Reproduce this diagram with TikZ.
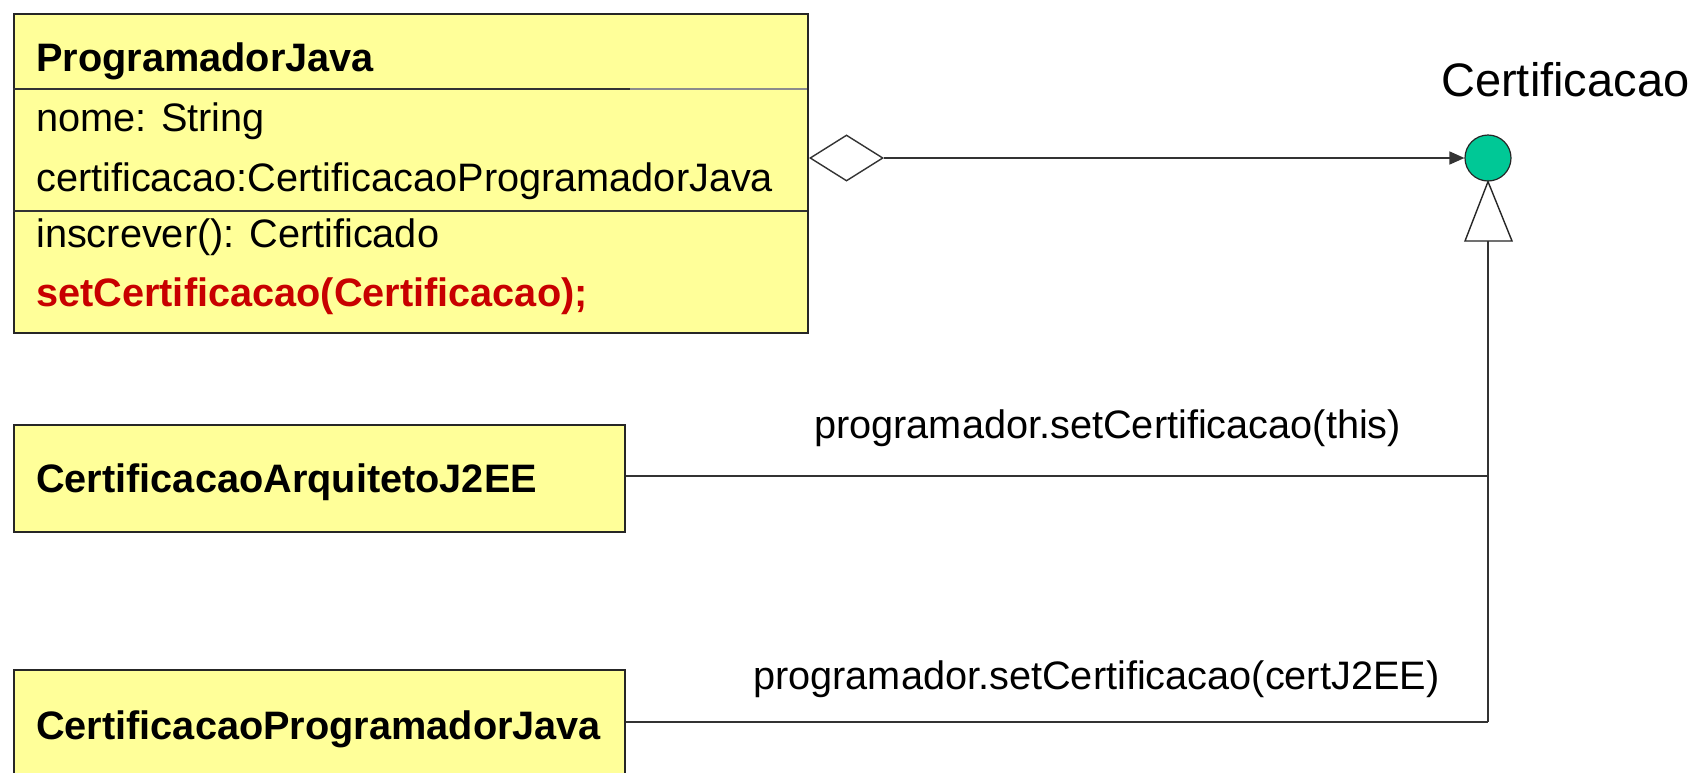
\documentclass[tikz,border=0pt]{standalone}
\usepackage{fontspec}
\setmainfont{Liberation Sans}
\usetikzlibrary{shapes.geometric,arrows.meta}
\definecolor{umlyellow}{RGB}{255,255,153}
\definecolor{umlgreen}{RGB}{0,200,150}
\definecolor{umlred}{RGB}{200,0,0}
\tikzset{
  classbox/.style={draw=black!85, line width=1.8pt, fill=umlyellow, rectangle, inner sep=0pt, anchor=north west},
  sepline/.style={draw=black!80, line width=1.6pt},
  conn/.style={draw=black!80, line width=1.6pt},
  txt/.style={anchor=base west, inner sep=0pt, font=\fontsize{39.7}{46}\selectfont},
  btxt/.style={txt, font=\fontsize{39.7}{46}\selectfont\bfseries},
}
\begin{document}
\begin{tikzpicture}[x=1pt,y=-1pt]
\useasboundingbox (0,0) rectangle (1697,772);
\clip (0,0) rectangle (1697,772);
\fill[white] (0,0) rectangle (1697,772);
% main class
\node[classbox, minimum width=794pt, minimum height=319pt] (pj) at (13,13) {};
\draw[sepline] (13,89) -- (630,89);
\draw[draw=black!45, line width=1.6pt] (630,89) -- (807,89);
\draw[sepline] (13,211) -- (807,211);
\node[btxt] (pjname) at (36,71) {ProgramadorJava};
\node[txt] (a1) at (36,131) {nome: String};
\node[txt] (a2) at (36,191) {certificacao:CertificacaoProgramadorJava};
\node[txt] (m1) at (36,247) {inscrever(): Certificado};
\node[btxt, text=umlred] (m2) at (36,306) {setCertificacao(Certificacao);};
% interface
\node[draw=black!85, line width=1.2pt, fill=umlgreen, circle, minimum size=46pt, inner sep=0pt] (cert) at (1488,158) {};
\node[txt, font=\fontsize{47}{54}\selectfont] (certlbl) at (1441,96) {Certificacao};
% aggregation diamond
\node[draw=black!80, line width=1.4pt, fill=white, diamond, minimum width=73pt, minimum height=46pt, inner sep=0pt] (dia) at (846.5,158) {};
\draw[conn, -{Triangle[length=15pt,width=13pt]}] (dia.east) -- (cert.west);
% generalization triangle
\coordinate (tribase) at (1488,241);
\draw[draw=black!85, line width=1.4pt, fill=white] (cert.south) -- (1465,241) -- (1512,241) -- cycle;
\coordinate (vend) at (1488,722);
\draw[conn] (tribase) -- (vend);
% subclasses
\node[classbox, minimum width=611pt, minimum height=107pt] (arq) at (13,424) {};
\node[btxt] (arqname) at (36,492) {CertificacaoArquitetoJ2EE};
\node[classbox, minimum width=611pt, minimum height=130pt] (prog) at (13,669) {};
\node[btxt] (progname) at (36,739) {CertificacaoProgramadorJava};
\draw[conn] (arq.east |- 0,476) -- (tribase |- 0,476);
\draw[conn] (prog.east |- 0,722) -- (vend);
\node[txt] (l1) at (814,438) {programador.setCertificacao(this)};
\node[txt] (l2) at (753,689) {programador.setCertificacao(certJ2EE)};
\end{tikzpicture}
\end{document}
